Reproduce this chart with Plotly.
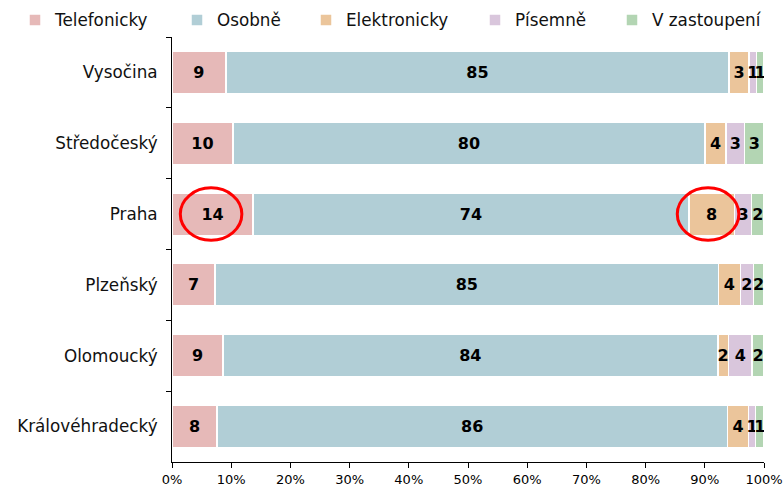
import plotly.graph_objects as go

# Regions (top to bottom) and the share of each contact channel, in %
regions = ["Vysočina", "Středočeský", "Praha", "Plzeňský", "Olomoucký", "Královéhradecký"]

telefonicky = [9.1, 10.3, 13.7, 7.3, 8.6, 7.6]
osobne = [85.0, 79.7, 73.6, 85.0, 83.6, 86.2]
elektronicky = [3.4, 3.6, 7.7, 3.7, 1.8, 3.6]
pisemne = [1.2, 3.1, 2.9, 2.2, 4.0, 1.2]
v_zastoupeni = [1.3, 3.3, 2.1, 1.8, 2.0, 1.4]

series_names = ["Telefonicky", "Osobně", "Elektronicky", "Písemně", "V zastoupení"]
series_values = [telefonicky, osobne, elektronicky, pisemne, v_zastoupeni]
series_colors = ["#E6B9B8", "#B1CED6", "#EBC59B", "#D9C6DC", "#B3D5B3"]

x_ticks = list(range(0, 101, 10))

FONT = "DejaVu Sans"

fig = go.Figure()

legend_ids = ["legend", "legend2", "legend3", "legend4", "legend5"]
for name, vals, color, lg in zip(series_names, series_values, series_colors, legend_ids):
    fig.add_trace(go.Bar(
        y=regions,
        x=vals,
        name=name,
        orientation="h",
        width=0.6,
        marker=dict(color=color, line=dict(color="white", width=1.5)),
        texttemplate="%{x:.0f}",
        textposition="inside",
        insidetextanchor="middle",
        textangle=0,
        textfont=dict(family=FONT, size=16, color="black", weight="bold"),
        legend=lg,
        hoverinfo="skip",
    ))

# Highlight rings around the Praha phone and electronic segments
praha = regions.index("Praha")
tel_mid = telefonicky[praha] / 2 - 0.25
ele_mid = telefonicky[praha] + osobne[praha] + elektronicky[praha] / 2 - 0.6
for cx in (tel_mid, ele_mid):
    fig.add_shape(
        type="circle", xref="x", yref="y",
        x0=cx - 5.2, x1=cx + 5.2, y0=praha - 0.37, y1=praha + 0.37,
        line=dict(color="#FF0000", width=3),
    )

# One small legend per series, laid out across the top (left edge of each label, px)
legend_text_x = [55, 217, 346, 515, 652]
legend_layout = {}
for lg, px in zip(legend_ids, legend_text_x):
    legend_layout[lg] = dict(
        orientation="h",
        xref="container", yref="container",
        x=(px - 40) / 783, y=1 - 20 / 488,
        xanchor="left", yanchor="middle",
        font=dict(family=FONT, size=16.8, color="#111111"),
        bgcolor="rgba(0,0,0,0)",
        borderwidth=0,
    )

fig.update_layout(
    width=783, height=488,
    margin=dict(l=172, r=19, t=37, b=26, autoexpand=False),
    barmode="stack",
    bargap=0.4,
    plot_bgcolor="white",
    paper_bgcolor="white",
    font=dict(family=FONT, size=16, color="black"),
    uniformtext=dict(minsize=16, mode="show"),
    showlegend=True,
    **legend_layout,
)

fig.update_xaxes(
    range=[0, 100],
    tickvals=x_ticks,
    ticktext=[f"{v}%" for v in x_ticks],
    showgrid=False,
    zeroline=False,
    showline=True, linecolor="black", linewidth=1,
    ticks="outside", ticklen=5, tickcolor="black",
    tickfont=dict(family=FONT, size=13, color="black"),
    automargin=False,
)

fig.update_yaxes(
    autorange="reversed",
    showgrid=False,
    showline=True, linecolor="black", linewidth=1,
    ticks="outside", ticklen=5, tickcolor="black",
    tickson="boundaries",
    tickfont=dict(family=FONT, size=16.8, color="#111111"),
    ticklabelstandoff=10,
    automargin=False,
)

fig.write_html("out.html")
